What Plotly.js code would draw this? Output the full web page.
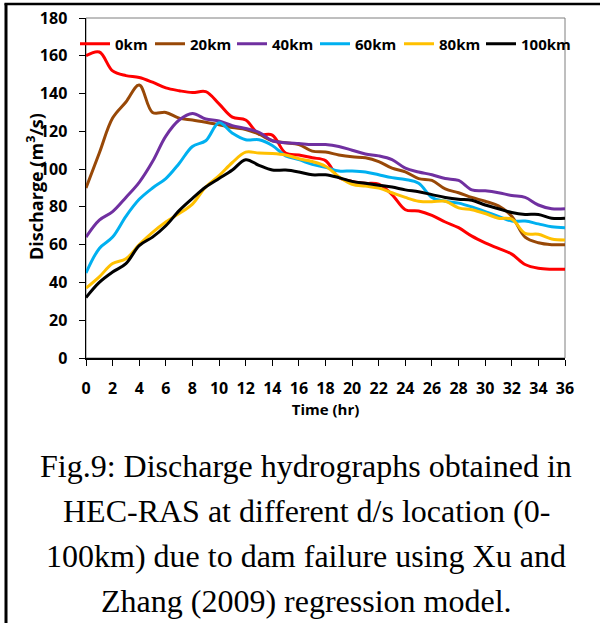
<!DOCTYPE html>
<html>
<head>
<meta charset="utf-8">
<script src="https://cdn.plot.ly/plotly-3.0.1.min.js"></script>
<style>
  html, body { margin: 0; padding: 0; background: #ffffff; }
  #chart { width: 600px; height: 623px; }
</style>
</head>
<body>
<div id="chart"></div>
<script>
// Time after breach (hr)
const hours = [0, 1, 2, 3, 4, 5, 6, 7, 8, 9, 10, 11, 12, 13, 14, 15, 16, 17, 18,
               19, 20, 21, 22, 23, 24, 25, 26, 27, 28, 29, 30, 31, 32, 33, 34, 35, 36];

// Discharge (m3/s) at each downstream location
const q0km   = [160, 162, 152, 149.5, 148.5, 146, 143, 141.5, 140.5, 141, 134.5, 127.5, 126, 118.5, 118, 108.5, 107.5, 106, 104.5,
                95.5, 93.5, 92.5, 92, 86.5, 78.5, 77.8, 75.5, 72, 69, 64.5, 61, 58, 55, 49.5, 47.5, 47, 47];
const q20km  = [90, 108.5, 127, 135.5, 144.5, 130, 130, 127, 126, 124.8, 123.5, 122, 121, 118.5, 115, 114, 113, 109.5, 109,
                107.5, 106.5, 106, 104, 100.5, 98.5, 95, 94, 89.5, 87.5, 85, 83, 80.5, 75, 64, 61, 60, 60];
const q40km  = [64, 73, 77.5, 85, 93, 104, 117.5, 126, 129.5, 126.5, 125.5, 123, 121.5, 119.5, 115, 114, 113.5, 113, 113,
                112, 110, 108, 107, 105, 100.5, 98.5, 97, 95, 94, 89, 88.5, 87.5, 86, 85, 81, 79, 79];
const q60km  = [45, 58, 64, 75, 84, 90, 95, 103, 112, 115, 124.5, 119, 115.5, 115.5, 112.5, 107, 105, 102.5, 101,
                99, 99, 98.5, 97, 95.5, 94.5, 92.5, 85, 83, 82, 80, 77.5, 75, 72.5, 72.5, 71, 69.5, 69];
const q80km  = [37, 43, 50, 52.5, 60, 66.5, 72, 76.5, 81.5, 90.5, 96.5, 103.5, 109, 108.5, 108.3, 107.5, 105.5, 104, 101.5,
                96, 92, 91, 90, 87.5, 85, 83, 82.7, 83, 79.5, 78.5, 76.5, 74, 73.5, 66, 65.5, 63, 62.5];
const q100km = [32, 40, 45.5, 50, 59.5, 64, 70, 78, 84.5, 90.5, 95, 99.5, 105, 102, 99.5, 99.5, 98.5, 97, 97,
                95.5, 93.5, 92.5, 91.5, 90.5, 89, 88, 86.5, 85, 84, 83.5, 81, 79, 77, 76, 76, 74, 74];

const seriesNames  = ['0km', '20km', '40km', '60km', '80km', '100km'];
const seriesValues = [q0km, q20km, q40km, q60km, q80km, q100km];
const seriesColors = ['#FF0000', '#984807', '#7030A0', '#00B0F0', '#FFC000', '#000000'];

const xTicks = [0, 2, 4, 6, 8, 10, 12, 14, 16, 18, 20, 22, 24, 26, 28, 30, 32, 34, 36];
const yTicks = [0, 20, 40, 60, 80, 100, 120, 140, 160, 180];

const xTitle = 'Time (hr)';
const yTitle = 'Discharge (m<sup>3</sup>/s)';
const captionLines = [
  'Fig.9: Discharge hydrographs obtained in',
  'HEC-RAS at different d/s location (0-',
  '100km) due to dam failure using Xu and',
  'Zhang (2009) regression model.'
];

const sansBold = { family: 'Open Sans, Liberation Sans, sans-serif', weight: 700, color: '#000000' };
const bold = size => Object.assign({ size: size }, sansBold);

// Plot frame geometry (pixels)
const W = 600, H = 623;
const M = { l: 86, r: 35, t: 18, b: 265 };
const plotW = W - M.l - M.r, plotH = H - M.t - M.b;
const px = X => (X - M.l) / plotW;            // pixel -> paper x
const py = Y => (H - M.b - Y) / plotH;        // pixel -> paper y

// each series gets its own one-entry legend so the key row spans the plot width
const legendKey = i => (i === 0 ? 'legend' : 'legend' + (i + 1));
const legendLeft = [75, 150, 232, 315, 399, 481];

const traces = seriesNames.map((name, i) => ({
  type: 'scatter',
  mode: 'lines',
  name: name,
  x: hours,
  y: seriesValues[i],
  line: { color: seriesColors[i], width: 3, shape: 'spline', smoothing: 1 },
  legend: legendKey(i)
}));

const captionY = [466, 511, 556, 601];
const annotations = captionLines.map((t, i) => ({
  text: t, xref: 'paper', yref: 'paper',
  x: px(306), y: py(captionY[i]),
  xanchor: 'center', yanchor: 'middle', showarrow: false,
  font: { family: 'Liberation Serif, Times New Roman, serif', size: 32, color: '#000000' }
}));

// vertical axis title
annotations.push({
  text: yTitle, xref: 'paper', yref: 'paper',
  x: px(35), y: py(187), xanchor: 'center', yanchor: 'middle',
  textangle: -90, showarrow: false, font: bold(18)
});

const shapes = [
  // grey plot-area box (top and right edges show)
  { type: 'rect', xref: 'paper', yref: 'paper', x0: 0, x1: 1, y0: 0, y1: 1,
    line: { color: '#7f7f7f', width: 1 }, layer: 'below' },
  // outer figure frame: left and top rules
  { type: 'line', xref: 'paper', yref: 'paper', x0: px(6), x1: px(6), y0: py(3.5), y1: py(H + 5),
    line: { color: '#000000', width: 3 } },
  { type: 'line', xref: 'paper', yref: 'paper', x0: px(4.5), x1: px(W + 5), y0: py(4), y1: py(4),
    line: { color: '#000000', width: 2.5 } }
];

const layout = {
  width: W, height: H,
  margin: M,
  paper_bgcolor: '#ffffff',
  plot_bgcolor: '#ffffff',
  showlegend: true,
  xaxis: {
    range: [0, 36], tickmode: 'array', tickvals: xTicks, ticktext: xTicks.map(String),
    showgrid: false, zeroline: false,
    showline: true, linecolor: '#000000', linewidth: 1.5,
    ticks: 'outside', ticklen: 6, tickcolor: '#000000', tickwidth: 1,
    ticklabelstandoff: 9,
    tickfont: bold(16),
    title: { text: xTitle, font: bold(15), standoff: 3 }
  },
  yaxis: {
    range: [0, 180], tickmode: 'array', tickvals: yTicks, ticktext: yTicks.map(String),
    showgrid: false, zeroline: false,
    showline: true, linecolor: '#000000', linewidth: 1.5,
    ticks: 'outside', ticklen: 6, tickcolor: '#000000', tickwidth: 1,
    ticklabelstandoff: 8,
    tickfont: bold(16)
  },
  annotations: annotations,
  shapes: shapes
};

seriesNames.forEach((name, i) => {
  layout[legendKey(i)] = {
    orientation: 'h',
    x: px(legendLeft[i]), y: py(44), xanchor: 'left', yanchor: 'middle',
    bgcolor: 'rgba(0,0,0,0)', borderwidth: 0,
    font: bold(15),
    itemwidth: 30
  };
});

Plotly.newPlot('chart', traces, layout, { staticPlot: true, displayModeBar: false });
</script>
</body>
</html>
